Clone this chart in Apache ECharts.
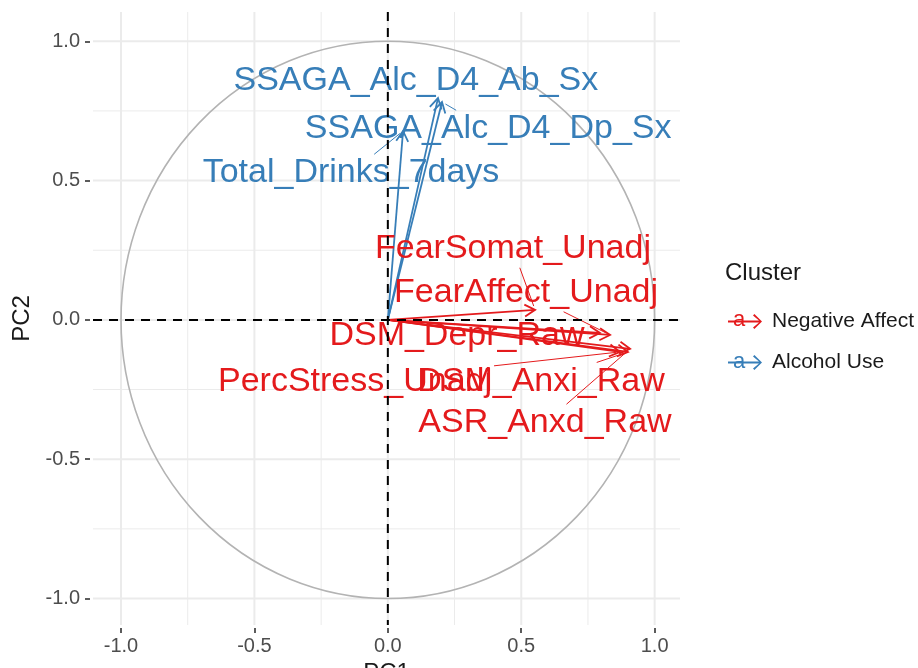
<!DOCTYPE html>
<html>
<head>
<meta charset="utf-8">
<script src="https://cdn.jsdelivr.net/npm/echarts@6/dist/echarts.min.js"></script>
<style>
  html, body { margin: 0; padding: 0; background: #fff; }
  #chart { width: 918px; height: 668px; }
</style>
</head>
<body>
<div id="chart"></div>
<script>
// variables and their coordinates on the first two components
const varNames = ['SSAGA_Alc_D4_Ab_Sx', 'SSAGA_Alc_D4_Dp_Sx', 'Total_Drinks_7days',
  'FearSomat_Unadj', 'FearAffect_Unadj', 'DSM_Depr_Raw', 'PercStress_Unadj', 'DSM_Anxi_Raw', 'ASR_Anxd_Raw']
const pc1 = [0.188, 0.203, 0.057, 0.552, 0.833, 0.795, 0.870, 0.900, 0.908]
const pc2 = [0.796, 0.782, 0.678, 0.036, -0.054, -0.047, -0.115, -0.115, -0.104]
const cluster = ['Alcohol Use', 'Alcohol Use', 'Alcohol Use',
  'Negative Affect', 'Negative Affect', 'Negative Affect', 'Negative Affect', 'Negative Affect', 'Negative Affect']
const clusters = ['Negative Affect', 'Alcohol Use']
const majorTicks = [-1, -0.5, 0, 0.5, 1]
const minorTicks = [-0.75, -0.25, 0.25, 0.75]
const circleRadius = [1]

// where the repelled labels sit (in PC units)
const labelX = [0.105, 0.376, -0.138, 0.469, 0.518, 0.259, -0.123, 0.574, 0.589]
const labelY = [0.868, 0.696, 0.538, 0.265, 0.107, -0.047, -0.209, -0.209, -0.359]

const colors = { 'Negative Affect': '#E41A1C', 'Alcohol Use': '#377EB8' }
const FONT = '"Liberation Sans", Arial, Helvetica, sans-serif'
const LABEL_SIZE = 34

const ctx = document.createElement('canvas').getContext('2d')
ctx.font = LABEL_SIZE + 'px ' + FONT
const textWidth = s => ctx.measureText(s).width

const rowsFor = c => varNames
  .map((n, i) => [pc1[i], pc2[i], labelX[i], labelY[i], i])
  .filter(r => cluster[r[4]] === c)

const gridRows = []
majorTicks.forEach(v => { gridRows.push([v, 0, 1]); gridRows.push([v, 1, 1]) })
minorTicks.forEach(v => { gridRows.push([v, 0, 0]); gridRows.push([v, 1, 0]) })

function renderGrid(params, api) {
  const cs = params.coordSys
  const v = api.value(0)
  const style = { stroke: '#ebebeb', lineWidth: api.value(2) ? 2 : 1 }
  if (api.value(1) === 0) {
    const p = api.coord([v, 0])
    return { type: 'line', shape: { x1: p[0], y1: cs.y, x2: p[0], y2: cs.y + cs.height }, style }
  }
  const p = api.coord([0, v])
  return { type: 'line', shape: { x1: cs.x, y1: p[1], x2: cs.x + cs.width, y2: p[1] }, style }
}

function renderZeroLine(params, api) {
  const cs = params.coordSys
  const style = { stroke: '#000', lineWidth: 2, lineDash: [9, 7] }
  const p = api.coord([0, 0])
  if (api.value(2) === 0) {
    return { type: 'line', shape: { x1: p[0], y1: cs.y, x2: p[0], y2: cs.y + cs.height }, style }
  }
  return { type: 'line', shape: { x1: cs.x, y1: p[1], x2: cs.x + cs.width, y2: p[1] }, style }
}

function renderCircle(params, api) {
  const c = api.coord([0, 0])
  const r = api.size([api.value(2), api.value(2)])
  const rx = r[0], ry = r[1]
  const d = 'M' + (c[0] - rx) + ' ' + c[1] +
    ' A' + rx + ' ' + ry + ' 0 1 0 ' + (c[0] + rx) + ' ' + c[1] +
    ' A' + rx + ' ' + ry + ' 0 1 0 ' + (c[0] - rx) + ' ' + c[1] + ' Z'
  return { type: 'path', shape: { pathData: d }, style: { fill: null, stroke: '#b3b3b3', lineWidth: 1.6 } }
}

function renderArrow(params, api) {
  const o = api.coord([0, 0])
  const p = api.coord([api.value(0), api.value(1)])
  const a = Math.atan2(p[1] - o[1], p[0] - o[0])
  const L = 12, phi = Math.PI / 6
  const h1 = [p[0] - L * Math.cos(a - phi), p[1] - L * Math.sin(a - phi)]
  const h2 = [p[0] - L * Math.cos(a + phi), p[1] - L * Math.sin(a + phi)]
  const color = api.visual('color')
  return {
    type: 'group',
    children: [
      { type: 'line', shape: { x1: o[0], y1: o[1], x2: p[0], y2: p[1] }, style: { stroke: color, lineWidth: 1.8 } },
      { type: 'polyline', shape: { points: [h1, p, h2] }, style: { stroke: color, fill: null, lineWidth: 1.8 } }
    ]
  }
}

function renderLabel(params, api) {
  const name = varNames[api.value(4)]
  const tip = api.coord([api.value(0), api.value(1)])
  const c = api.coord([api.value(2), api.value(3)])
  c[1] += 3 // glyphs sit a little low in ggplot's text boxes
  const color = api.visual('color')
  const hw = textWidth(name) / 2 + 2
  const hh = LABEL_SIZE * 0.55
  const children = []
  const dx = tip[0] - c[0], dy = tip[1] - c[1]
  if (Math.abs(dx) > hw || Math.abs(dy) > hh) {
    // segment from the edge of the label box to the arrow tip
    const t = Math.min(hw / Math.abs(dx || 1e-9), hh / Math.abs(dy || 1e-9))
    const s = [c[0] + dx * t, c[1] + dy * t]
    const len = Math.hypot(tip[0] - s[0], tip[1] - s[1])
    if (len > 6) {
      const k = (len - 4) / len
      children.push({
        type: 'line',
        shape: { x1: s[0], y1: s[1], x2: s[0] + (tip[0] - s[0]) * k, y2: s[1] + (tip[1] - s[1]) * k },
        style: { stroke: color, lineWidth: 1 }
      })
    }
  }
  children.push({
    type: 'text', x: c[0], y: c[1],
    style: { text: name, fill: color, font: LABEL_SIZE + 'px ' + FONT, align: 'center', verticalAlign: 'middle' }
  })
  return { type: 'group', children }
}

const chart = echarts.init(document.getElementById('chart'))

const series = [
  { type: 'custom', name: 'grid', renderItem: renderGrid, data: gridRows, z: 0, silent: true },
  { type: 'custom', name: 'circle', renderItem: renderCircle, data: circleRadius.map(r => [0, 0, r]), z: 1, silent: true }
]
clusters.forEach(c => {
  series.push({ type: 'custom', name: c, renderItem: renderArrow, data: rowsFor(c), z: 3, itemStyle: { color: colors[c] } })
})
clusters.forEach(c => {
  series.push({ type: 'custom', name: c, renderItem: renderLabel, data: rowsFor(c), z: 4, itemStyle: { color: colors[c] } })
})
series.push({ type: 'custom', name: 'zero', renderItem: renderZeroLine, data: [[0, 0, 0], [0, 0, 1]], z: 6, silent: true })

const option = {
  animation: false,
  color: [colors['Negative Affect'], colors['Alcohol Use']],
  grid: { left: 93, right: 238, top: 12, bottom: 43, outerBoundsMode: 'none', containLabel: false },
  title: {
    text: 'Cluster', left: 720, top: 256,
    textStyle: { fontSize: 24, fontWeight: 'normal', color: '#1a1a1a', fontFamily: FONT }
  },
  legend: {
    data: clusters,
    orient: 'vertical',
    left: 723, top: 306,
    itemWidth: 34, itemHeight: 16, itemGap: 20,
    icon: 'path://M0 7L31 7L25 2L26.4 0.6L34 8L26.4 15.4L25 14L31 9L0 9Z',
    textStyle: { fontSize: 21, color: '#1a1a1a', fontFamily: FONT, padding: [0, 0, 0, 5] }
  },
  xAxis: {
    type: 'value', min: -1.105, max: 1.095, offset: 3,
    axisLine: { show: false, onZero: false }, splitLine: { show: false },
    axisTick: { show: true, customValues: majorTicks, length: 5, lineStyle: { color: '#333', width: 1.6 } },
    axisLabel: { customValues: majorTicks, formatter: v => v.toFixed(1), fontSize: 20, color: '#4d4d4d', margin: 8, fontFamily: FONT },
    name: 'PC1', nameLocation: 'middle', nameGap: 32,
    nameTextStyle: { fontSize: 24, color: '#1a1a1a', fontFamily: FONT }
  },
  yAxis: {
    type: 'value', min: -1.095, max: 1.105, offset: 3,
    axisLine: { show: false, onZero: false }, splitLine: { show: false },
    axisTick: { show: true, customValues: majorTicks, length: 5, lineStyle: { color: '#333', width: 1.6 } },
    axisLabel: { customValues: majorTicks, formatter: v => v.toFixed(1), fontSize: 20, color: '#4d4d4d', margin: 10, fontFamily: FONT },
    name: 'PC2', nameLocation: 'middle', nameGap: 53, nameRotate: 90,
    nameTextStyle: { fontSize: 24, color: '#1a1a1a', fontFamily: FONT }
  },
  graphic: [
    { type: 'text', left: 733, top: 309, style: { text: 'a', fill: colors['Negative Affect'], font: '22px ' + FONT } },
    { type: 'text', left: 733, top: 351, style: { text: 'a', fill: colors['Alcohol Use'], font: '22px ' + FONT } }
  ],
  series
}
chart.setOption(option)
</script>
</body>
</html>
